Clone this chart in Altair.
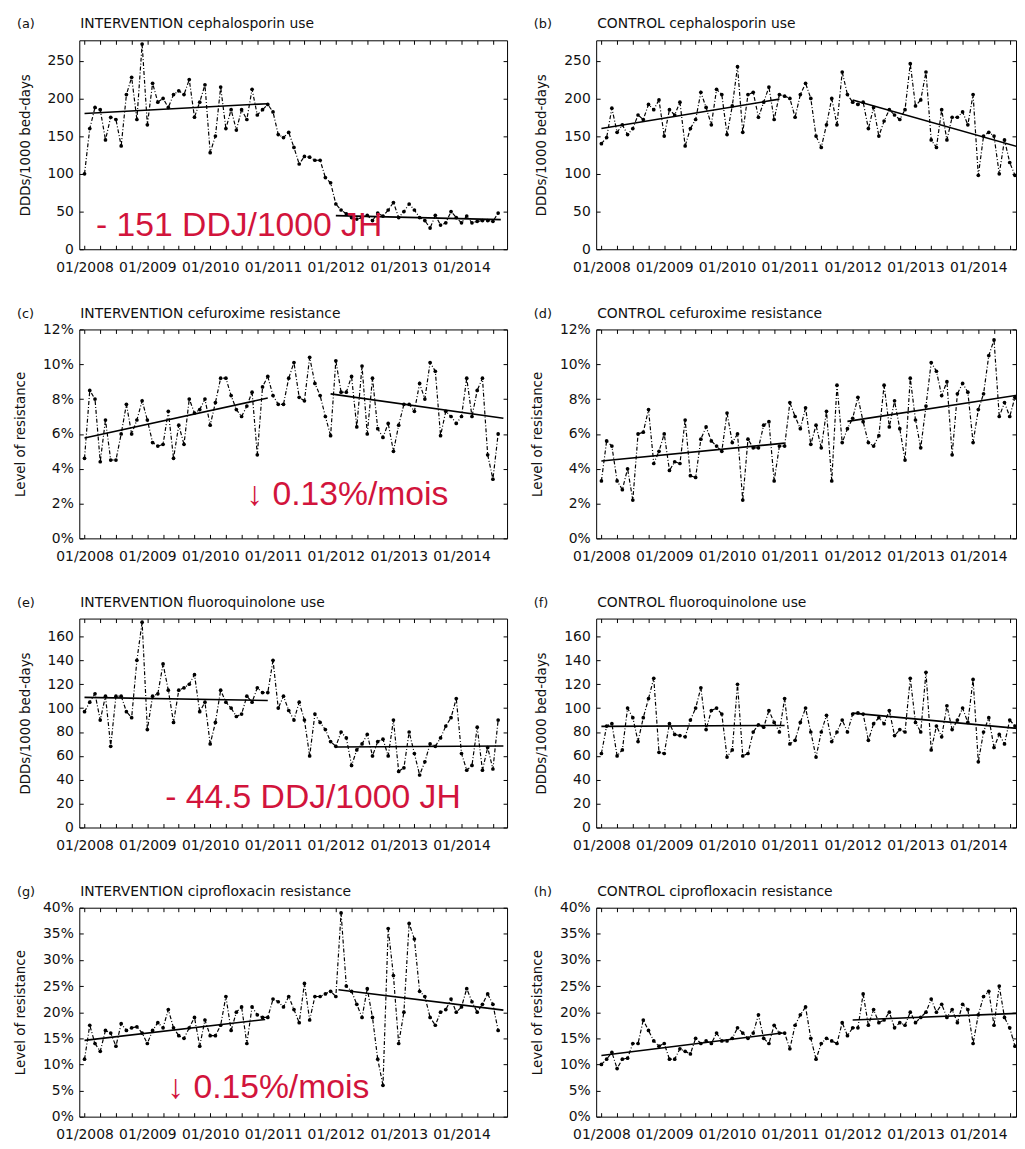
import altair as alt
import pandas as pd

# ---------------- data ----------------
YEAR_LABELS = ['01/2008', '01/2009', '01/2010', '01/2011', '01/2012', '01/2013', '01/2014']
MONTHS = list(range(80))          # 0 = 01/2008 ... 79 = 08/2014

a_vals = [100, 160, 188, 185, 145, 175, 172, 137, 205, 228,
          172, 272, 165, 220, 195, 200, 188, 205, 210, 205,
          225, 175, 195, 218, 128, 150, 215, 160, 185, 158,
          185, 172, 212, 178, 185, 192, 182, 152, 148, 155,
          135, 113, 123, 122, 118, 118, 95, 88, 60, 52,
          47, 42, 40, 42, 45, 38, 48, 44, 52, 62,
          42, 50, 60, 52, 42, 38, 28, 45, 32, 35,
          50, 42, 35, 44, 35, 37, 38, 38, 37, 48]
b_vals = [140, 148, 187, 155, 165, 152, 160, 178, 172, 192,
          185, 198, 150, 185, 178, 195, 137, 160, 172, 208,
          188, 165, 212, 205, 152, 190, 242, 155, 205, 208,
          175, 195, 215, 172, 205, 203, 200, 175, 205, 220,
          200, 150, 135, 165, 200, 165, 235, 205, 195, 192,
          195, 160, 188, 150, 170, 185, 178, 172, 185, 246,
          190, 198, 235, 145, 135, 185, 145, 175, 175, 182,
          165, 205, 98, 150, 155, 150, 100, 145, 115, 98]
c_vals = [4.6, 8.5, 8.0, 4.4, 6.8, 4.5, 4.5, 6.0, 7.7, 6.0,
          6.8, 7.9, 6.8, 5.5, 5.3, 5.4, 7.3, 4.6, 6.5, 5.4,
          8.0, 7.2, 7.4, 8.0, 6.5, 7.8, 9.2, 9.2, 8.2, 7.4,
          7.0, 7.6, 8.4, 4.8, 8.7, 9.3, 8.2, 7.7, 7.7, 9.2,
          10.1, 8.1, 7.9, 10.4, 8.9, 8.2, 7.0, 5.9, 10.2, 8.4,
          8.4, 9.3, 6.4, 9.9, 6.0, 9.2, 6.3, 5.8, 6.6, 5.0,
          6.5, 7.7, 7.7, 7.3, 8.9, 8.0, 10.1, 9.6, 5.9, 7.3,
          7.0, 6.6, 7.0, 9.2, 7.0, 8.5, 9.2, 4.8, 3.4, 6.0]
d_vals = [3.3, 5.6, 5.3, 3.3, 2.8, 4.0, 2.2, 6.0, 6.1, 7.4,
          4.3, 5.0, 6.0, 3.9, 4.4, 4.3, 6.8, 3.6, 3.5, 5.7,
          6.4, 5.6, 5.3, 5.0, 7.2, 5.5, 6.0, 2.2, 5.7, 5.2,
          5.2, 6.5, 6.7, 3.3, 5.3, 5.3, 7.8, 7.0, 6.3, 7.5,
          5.4, 6.5, 5.2, 7.3, 3.3, 8.8, 5.5, 6.3, 6.9, 8.1,
          6.7, 5.5, 5.3, 5.9, 8.8, 6.4, 7.9, 6.3, 4.5, 9.2,
          6.8, 5.2, 7.6, 10.1, 9.6, 8.2, 9.0, 4.8, 8.3, 8.9,
          8.4, 5.5, 7.4, 8.3, 10.5, 11.4, 7.0, 7.8, 7.0, 8.1]
e_vals = [97, 105, 112, 90, 110, 68, 110, 110, 97, 92,
          140, 172, 82, 110, 112, 137, 115, 88, 115, 117,
          120, 128, 97, 105, 70, 88, 115, 105, 100, 93,
          95, 110, 105, 117, 113, 113, 140, 100, 110, 98,
          90, 105, 90, 60, 95, 88, 82, 72, 68, 80,
          75, 52, 65, 70, 78, 60, 72, 74, 60, 90,
          47, 50, 80, 62, 44, 55, 70, 68, 75, 85,
          92, 108, 62, 48, 52, 84, 48, 67, 49, 90]
f_vals = [62, 85, 87, 60, 65, 100, 92, 72, 92, 108,
          125, 63, 62, 87, 78, 77, 76, 90, 100, 117,
          82, 98, 100, 95, 59, 65, 120, 60, 62, 80,
          86, 84, 98, 88, 80, 108, 70, 73, 88, 100,
          80, 59, 80, 94, 72, 80, 90, 80, 95, 96,
          95, 73, 87, 92, 87, 98, 77, 82, 80, 125,
          88, 80, 130, 65, 85, 76, 102, 82, 90, 100,
          88, 124, 55, 80, 92, 67, 78, 70, 90, 85]
g_vals = [11, 17.5, 14, 12.5, 16.5, 16, 13.5, 17.8, 16.5, 17,
          17.2, 16, 14, 16.5, 18, 17, 20.5, 17, 15.5, 15,
          17, 19, 13.5, 18.5, 15.5, 15.5, 17.5, 23, 16.5, 20,
          21, 14, 21, 19.5, 19, 19, 22.5, 22, 21, 23,
          20.5, 18, 25.5, 18.5, 23, 23, 23.5, 24, 23, 39,
          25, 24, 21.5, 19, 24.5, 19, 11, 6, 36, 27,
          14, 20, 37, 34, 24, 23, 19, 17.5, 20, 20.5,
          22.5, 20, 21, 24.5, 22, 20, 21.5, 23.5, 21.5, 16.5]
h_vals = [10, 11, 12.3, 9.2, 11, 11.2, 14, 14, 18.5, 16.5,
          14.5, 13.5, 14, 11, 11, 13, 12.5, 12, 15, 14,
          14.5, 14, 16, 14.5, 14.5, 15, 17, 16, 15, 16,
          19.5, 15, 14, 17.5, 16, 16, 13, 17.5, 19.5, 21,
          15, 11, 14, 15, 14.5, 14, 18, 15.5, 17, 17,
          23.5, 17.5, 20.5, 18, 18.5, 20, 17, 18, 17.5, 20,
          18, 19, 20, 22.5, 20, 21.5, 19, 20.5, 18, 21.5,
          20.5, 14, 19.5, 23, 24, 17.5, 25, 19, 17, 13.5]

# segmented trend lines: (month start, value start, month end, value end)
a_trend = [(0, 180, 35, 193), (48, 44.6, 79.5, 39.3)]
b_trend = [(0, 160, 34, 199), (48, 198, 80, 135)]
c_trend = [(0, 5.77, 35, 8.06), (47, 8.3, 80, 6.9)]
d_trend = [(0, 4.44, 35, 5.47), (47, 6.72, 79.5, 8.23)]
e_trend = [(0, 109, 35, 106.4), (48, 67.5, 80, 68.3)]
f_trend = [(0, 84.7, 35, 85.5), (48, 95.8, 80, 82.8)]
g_trend = [(0, 14.6, 34.5, 18.6), (48.5, 24.3, 80, 20.4)]
h_trend = [(0, 11.7, 34.5, 16.0), (48, 18.5, 80, 19.8)]

USE_TICKS = [0, 50, 100, 150, 200, 250]
CEF_TICKS = [0, 2, 4, 6, 8, 10, 12]
FQ_TICKS = [0, 20, 40, 60, 80, 100, 120, 140, 160]
CIP_TICKS = [0, 5, 10, 15, 20, 25, 30, 35, 40]

# ---------------- style ----------------
FONT = 'DejaVu Sans'
RED = '#d2143c'
H = 211
LEFT_W, LEFT_XDOM = 432, [-1, 80.7]
RIGHT_W, RIGHT_XDOM = 424, [-1, 79.2]
LABEL_ARR = '[' + ','.join("'" + s + "'" for s in YEAR_LABELS) + ']'
X_LABEL_EXPR = "datum.value % 12 == 0 ? " + LABEL_ARR + "[datum.value / 12] : ''"
X_TICKS = list(range(0, 80, 3))


def panel(letter, title, vals, trend, ydom, yticks, ytitle, pct, left, note=None):
    width = LEFT_W if left else RIGHT_W
    xs = alt.Scale(domain=LEFT_XDOM if left else RIGHT_XDOM, nice=False, zero=False)
    ys = alt.Scale(domain=ydom, nice=False, zero=False)

    x_bottom = alt.Axis(orient='bottom', values=X_TICKS, title=None,
                        labelExpr=X_LABEL_EXPR,
                        labelFont=FONT, labelFontSize=14, labelColor='#111',
                        labelPadding=11, labelOverlap=False, labelFlush=False,
                        tickSize=4, offset=-4, tickColor='black', domain=False, grid=False)
    y_kwargs = dict(orient='left', values=yticks, title=ytitle, titleFont=FONT,
                    titleFontSize=13.5, titleFontWeight='normal', titleColor='#111',
                    titlePadding=15, labelFont=FONT, labelFontSize=14, labelColor='#111',
                    labelPadding=6, labelOverlap=False, labelFlush=False,
                    tickSize=4, offset=-4, tickColor='black', domain=False, grid=False)
    if pct:
        y_kwargs['labelExpr'] = "datum.value + '%'"
    y_left = alt.Axis(**y_kwargs)
    x_top = alt.Axis(orient='top', values=X_TICKS, labels=False, title=None,
                     tickSize=4, offset=-4, tickColor='black', domain=False, grid=False)
    y_right = alt.Axis(orient='right', values=yticks, labels=False, title=None,
                       tickSize=4, offset=-4, tickColor='black', domain=False, grid=False)

    df = pd.DataFrame({'m': MONTHS, 'v': vals})
    base = alt.Chart(df)
    line = base.mark_line(color='black', strokeWidth=1.2, strokeDash=[4, 2, 1, 2], clip=True).encode(
        x=alt.X('m:Q', scale=xs, axis=x_bottom),
        y=alt.Y('v:Q', scale=ys, axis=y_left))
    pts = base.mark_circle(color='black', size=14, opacity=1, clip=True).encode(
        x=alt.X('m:Q', scale=xs, axis=None),
        y=alt.Y('v:Q', scale=ys, axis=None))

    rows = []
    for i, (m0, v0, m1, v1) in enumerate(trend):
        rows.append({'seg': i, 'm': m0, 'v': v0})
        rows.append({'seg': i, 'm': m1, 'v': v1})
    tr = alt.Chart(pd.DataFrame(rows)).mark_line(color='black', strokeWidth=1.6, clip=True).encode(
        x=alt.X('m:Q', scale=xs, axis=x_top),
        y=alt.Y('v:Q', scale=ys, axis=y_right),
        detail='seg:N')

    layers = [line, pts, tr]
    if note is not None:
        txt, nm, nv = note
        layers.append(alt.Chart(pd.DataFrame({'m': [nm], 'v': [nv], 't': [txt]})).mark_text(
            align='left', baseline='alphabetic', font='Liberation Sans', fontSize=34, color=RED
        ).encode(x=alt.X('m:Q', scale=xs, axis=None),
                 y=alt.Y('v:Q', scale=ys, axis=None), text='t:N'))

    layers.append(alt.Chart(pd.DataFrame({'t': [letter]})).mark_text(
        align='left', baseline='middle', font=FONT, fontSize=13, color='#111'
    ).encode(x=alt.value(-63), y=alt.value(-16), text='t:N'))
    layers.append(alt.Chart(pd.DataFrame({'t': [title]})).mark_text(
        align='left', baseline='middle', font=FONT, fontSize=14, color='#111'
    ).encode(x=alt.value(1), y=alt.value(-16), text='t:N'))

    return alt.layer(*layers).resolve_axis(x='independent', y='independent').properties(
        width=width, height=H)


USE_T = 'DDDs/1000 bed-days'
RES_T = 'Level of resistance'
panels = [
    panel('(a)', 'INTERVENTION cephalosporin use', a_vals, a_trend, [0, 277], USE_TICKS, USE_T, False, True,
          ('- 151 DDJ/1000 JH', 2.2, 17.5)),
    panel('(b)', 'CONTROL cephalosporin use', b_vals, b_trend, [0, 277], USE_TICKS, USE_T, False, False),
    panel('(c)', 'INTERVENTION cefuroxime resistance', c_vals, c_trend, [0, 12], CEF_TICKS, RES_T, True, True,
          ('\u2193 0.13%/mois', 30.9, 1.9)),
    panel('(d)', 'CONTROL cefuroxime resistance', d_vals, d_trend, [0, 12], CEF_TICKS, RES_T, True, False),
    panel('(e)', 'INTERVENTION fluoroquinolone use', e_vals, e_trend, [0, 175], FQ_TICKS, USE_T, False, True,
          ('- 44.5 DDJ/1000 JH', 15.4, 16.1)),
    panel('(f)', 'CONTROL fluoroquinolone use', f_vals, f_trend, [0, 175], FQ_TICKS, USE_T, False, False),
    panel('(g)', 'INTERVENTION ciprofloxacin resistance', g_vals, g_trend, [0, 40], CIP_TICKS, RES_T, True, True,
          ('\u2193 0.15%/mois', 15.8, 3.6)),
    panel('(h)', 'CONTROL ciprofloxacin resistance', h_vals, h_trend, [0, 40], CIP_TICKS, RES_T, True, False),
]

chart = alt.concat(*panels, columns=2, spacing={'row': 31, 'column': 22}).configure_view(
    stroke='black', strokeWidth=1
).properties(padding={'left': 5, 'top': 3, 'right': 0, 'bottom': -3}, background='white')

chart.save('out.html', embed_options={'renderer': 'svg', 'actions': False})
